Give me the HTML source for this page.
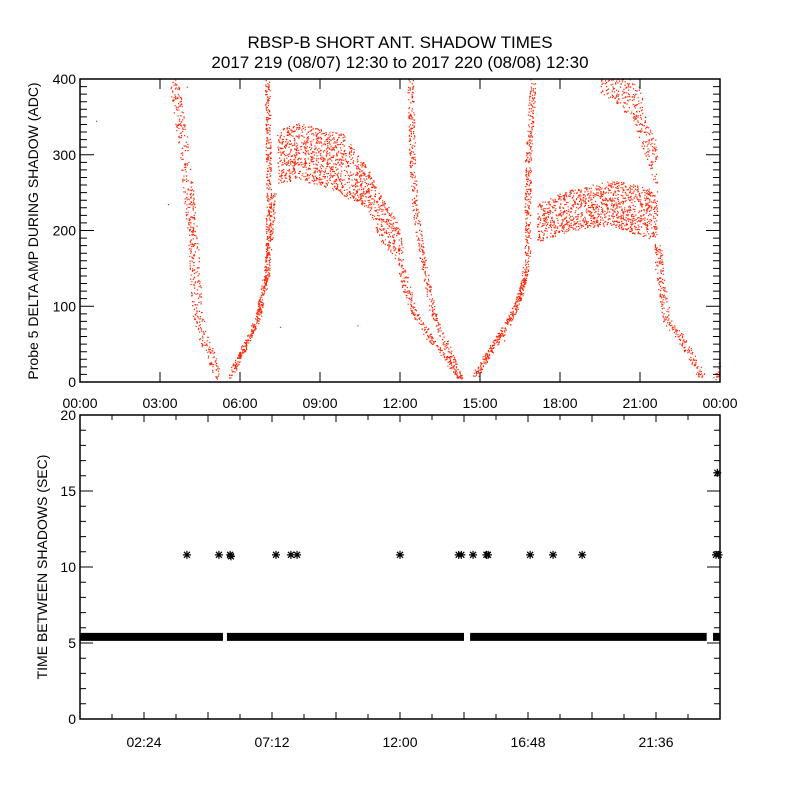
<!DOCTYPE html>
<html><head><meta charset="utf-8"><style>
html,body{margin:0;padding:0;background:#fff;}
svg{display:block;font-family:"Liberation Sans",sans-serif;}
</style></head><body>
<svg id="chart" width="800" height="800" viewBox="0 0 800 800">
<text x="400" y="48" font-size="17" text-anchor="middle">RBSP-B SHORT ANT. SHADOW TIMES</text>
<text x="400" y="68" font-size="17" text-anchor="middle">2017 219 (08/07) 12:30 to 2017 220 (08/08) 12:30</text>
<g id="topPanel"></g>
<g id="botPanel"></g>
</svg>
<script>
// ---- top panel data (hours, ADC) ----
const curveAHours=[3.49,3.86,4.2,4.39,4.61,4.95,5.21];
const curveAVals=[405,315,205,91,59,29,5];
const curveB1Hours=[5.62,6.0,6.38,6.68,7.01,7.08,7.02];
const curveB1Vals=[5,38,65,86,139,250,400];
const curveB2Hours=[5.7,6.1,6.6,6.9,7.05,7.15,7.25];
const curveB2Vals=[20,40,80,130,165,200,250];
const cloudCHours=[7.39,8.25,9.49,9.86,10.76,11.25,11.74,12.0,12.11];
const cloudCLows=[263,267,253,245,231,187,165,152,150];
const cloudCHighs=[337,342,330,328,284,249,223,200,178];
const curveC2Hours=[12.0,12.49,13.13,13.76,14.25];
const curveC2Vals=[152,95,59,33,5];
const curveC3Hours=[12.38,12.45,12.55,12.86,13.24,13.76,14.25];
const curveC3Vals=[399,300,230,161,91,46,5];
const curveD1Hours=[14.81,15.38,16.01,16.5,16.76,16.8,16.99];
const curveD1Vals=[8,42,73,117,161,293,400];
const curveD2Hours=[14.9,15.64,16.24,16.6,16.75];
const curveD2Vals=[15,60,91,130,150];
const cloudEHours=[17.14,18.26,19.39,19.99,21.26,21.64];
const cloudELows=[185,198,205,205,190,190];
const cloudEHighs=[236,253,262,267,258,244];
const cloudE2Hours=[19.5,20.0,20.74,21.0,21.26,21.64];
const cloudE2Lows=[381,370,345,315,290,249];
const cloudE2Highs=[400,400,400,390,340,319];
const curveFHours=[21.64,21.75,22.01,22.5,22.99,23.33];
const curveFVals=[183,139,82,59,29,5];
const curveGHours=[23.81,23.95,24];
const curveGVals=[5,15,25];
const strayHours=[0.6,3.3,7.5,10.4,13.4,15.9,22.9,23.7,23.8,4.0];
const strayVals=[345,235,73,75,75,55,45,330,290,390];
const topXTicks=["00:00","03:00","06:00","09:00","12:00","15:00","18:00","21:00","00:00"];
const topYTicks=[0,100,200,300,400];
// ---- bottom panel data ----
const bandStarts=[0,5.51,14.63,23.74];
const bandEnds=[5.36,14.4,23.5,24];
const bandValue=5.4;
const starHours=[4.01,5.21,5.63,5.66,7.35,7.91,8.14,12.0,14.2,14.3,14.74,15.24,15.3,16.88,17.74,18.83,23.85,23.95];
const starVals=[10.8,10.8,10.8,10.7,10.8,10.8,10.8,10.8,10.8,10.8,10.8,10.8,10.8,10.8,10.8,10.8,10.8,10.8];
const star2Hours=[23.9];
const star2Vals=[16.2];
const botXTicks=["02:24","07:12","12:00","16:48","21:36"];
const botYTicks=[0,5,10,15,20];

const NS="http://www.w3.org/2000/svg";
const L=80,R=720,T1=79,B1=382,T2=415,B2=719;
const xH=h=>L+h/24*(R-L);
const y1=v=>B1-v/400*(B1-T1);
const y2=v=>B2-v/20*(B2-T2);
function mk(tag,at,parent){const e=document.createElementNS(NS,tag);for(const k in at)e.setAttribute(k,at[k]);parent.appendChild(e);return e;}
const topG=document.getElementById('topPanel'),botG=document.getElementById('botPanel');
let seed=12345;function rnd(){seed=(Math.imul(seed,1664525)+1013904223)>>>0;return seed/4294967296;}
const RED="#ff2200";
let dotPath="";
function dot(x,y){if(x<L||x>R||y<T1||y>B1)return;dotPath+="M"+x.toFixed(1)+" "+y.toFixed(1)+"h1.2v1.2h-1.2z";}
function curve(hs,vs,spread,density){
  for(let i=0;i<hs.length-1;i++){
    const xa=xH(hs[i]),ya=y1(vs[i]),xb=xH(hs[i+1]),yb=y1(vs[i+1]);
    const len=Math.hypot(xb-xa,yb-ya);const n=Math.round(len*density);
    for(let k=0;k<n;k++){const t=rnd();const ox=(rnd()-0.5)*spread,oy=(rnd()-0.5)*spread*0.6;dot(xa+(xb-xa)*t+ox,ya+(yb-ya)*t+oy);}
  }
}
function cloud(hs,lo,hi,density){
  for(let i=0;i<hs.length-1;i++){
    const xa=xH(hs[i]),xb=xH(hs[i+1]);
    const area=(xb-xa)*((y1(lo[i])-y1(hi[i]))+(y1(lo[i+1])-y1(hi[i+1])))/2;
    const n=Math.round(area*density);
    for(let k=0;k<n;k++){const t=rnd(),u=rnd();
      const l=lo[i]+(lo[i+1]-lo[i])*t,h=hi[i]+(hi[i+1]-hi[i])*t;
      dot(xa+(xb-xa)*t,y1(l+(h-l)*u));}
  }
}
curve(curveAHours,curveAVals,10,1.5);
curve(curveB1Hours,curveB1Vals,5,1.5);
curve(curveB2Hours,curveB2Vals,5,1.2);
cloud(cloudCHours,cloudCLows,cloudCHighs,0.2);
curve(curveC2Hours,curveC2Vals,8,1.6);
curve(curveC3Hours,curveC3Vals,6,1.3);
curve(curveD1Hours,curveD1Vals,6,1.5);
curve(curveD2Hours,curveD2Vals,5,1.3);
cloud(cloudEHours,cloudELows,cloudEHighs,0.22);
cloud(cloudE2Hours,cloudE2Lows,cloudE2Highs,0.14);
curve(curveFHours,curveFVals,8,1.7);
curve(curveGHours,curveGVals,4,1.5);
for(let i=0;i<strayHours.length;i++)dot(xH(strayHours[i]),y1(strayVals[i]));
const dp=mk('path',{d:dotPath,fill:RED},topG);



// top axes
const f1=mk('rect',{x:L,y:T1,width:R-L,height:B1-T1,fill:'none',stroke:'#000','stroke-width':1.5},topG);


let tp="";
for(let i=0;i<topXTicks.length;i++){const x=L+i*(R-L)/8;tp+=`M${x} ${B1}v-10M${x} ${T1}v10`;
  const t=mk('text',{x:x,y:B1+26,'font-size':14,'text-anchor':'middle'},topG);t.textContent=topXTicks[i];
  
  }
for(let v=0;v<=400;v+=10){const y=y1(v);const len=v%100===0?14:7;tp+=`M${L} ${y}h${len}M${R} ${y}h${-len}`;}
for(const v of topYTicks){const t=mk('text',{x:L-4,y:y1(v)+5,'font-size':14,'text-anchor':'end'},topG);t.textContent=v;
  
  }
const tk1=mk('path',{d:tp,stroke:'#000','stroke-width':1,fill:'none'},topG);


const yt1=mk('text',{x:0,y:0,'font-size':14,'text-anchor':'middle',transform:`translate(38,231) rotate(-90)`},topG);
yt1.textContent="Probe 5 DELTA AMP DURING SHADOW (ADC)";



// bottom panel
let bp="";
for(let i=0;i<bandStarts.length;i++){bp+=`M${xH(bandStarts[i])} ${y2(bandValue)-4}H${xH(bandEnds[i])}v8H${xH(bandStarts[i])}z`;}
const band=mk('path',{d:bp,fill:'#000'},botG);


function star(x,y){return `M${x-4} ${y}h8M${x} ${y-4}v8M${x-3} ${y-3}l6 6M${x-3} ${y+3}l6 -6`;}
let sp="";
for(let i=0;i<starHours.length;i++)sp+=star(xH(starHours[i]),y2(starVals[i]));
for(let i=0;i<star2Hours.length;i++)sp+=star(xH(star2Hours[i]),y2(star2Vals[i]));
const st=mk('path',{d:sp,stroke:'#000','stroke-width':1.2,fill:'none'},botG);


const f2=mk('rect',{x:L,y:T2,width:R-L,height:B2-T2,fill:'none',stroke:'#000','stroke-width':1.5},botG);


let bt="";
for(let i=1;i<20;i++){const x=L+i*32;const len=i%2===0?7:5;bt+=`M${x} ${B2}v-${len}M${x} ${T2}v${len}`;}
for(let v=0;v<=20;v++){const y=y2(v);const len=v%5===0?13:6;bt+=`M${L} ${y}h${len}M${R} ${y}h${-len}`;}
const tk2=mk('path',{d:bt,stroke:'#000','stroke-width':1,fill:'none'},botG);


for(let i=0;i<botXTicks.length;i++){const t=mk('text',{x:L+64+i*128,y:B2+28,'font-size':14,'text-anchor':'middle'},botG);t.textContent=botXTicks[i];
  
  }
for(const v of botYTicks){const t=mk('text',{x:L-4,y:y2(v)+5,'font-size':14,'text-anchor':'end'},botG);t.textContent=v;
  
  }
const yt2=mk('text',{x:0,y:0,'font-size':14,'text-anchor':'middle',transform:`translate(47,567) rotate(-90)`},botG);
yt2.textContent="TIME BETWEEN SHADOWS (SEC)";


</script>
</body></html>
